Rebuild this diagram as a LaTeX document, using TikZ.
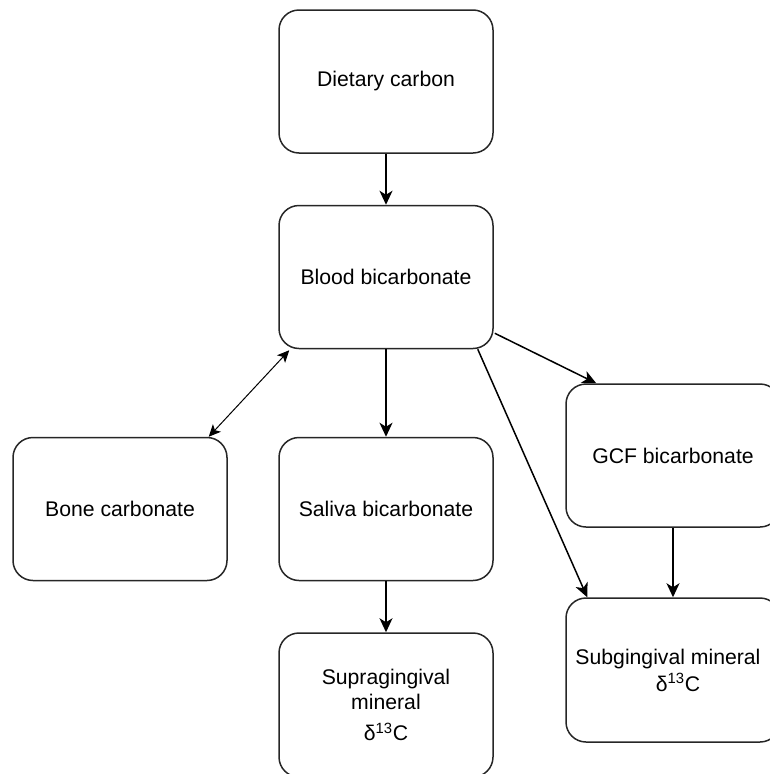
\documentclass[tikz,border=0pt]{standalone}
\usepackage{fontspec}
\setmainfont{Liberation Sans}
\usetikzlibrary{arrows.meta,calc}
\begin{document}
\begin{tikzpicture}[x=1pt,y=-1pt,
  box/.style={draw=black!85,line width=1.5pt,rounded corners=20pt,minimum width=214pt,minimum height=143pt,inner sep=0pt,align=center,font=\fontsize{21.2}{25}\selectfont},
  conn/.style={line width=1.5pt,-{Stealth[length=14pt,width=13pt,inset=4pt]}},
  thinconn/.style={line width=1pt,{Stealth[length=12pt,width=11pt,inset=3pt]}-{Stealth[length=12pt,width=11pt,inset=3pt]}}]
\useasboundingbox (0,0) rectangle (769,774);
\node[box] (diet) at (386,81.5) {Dietary carbon};
\node[box] (blood) at (386,277) {Blood bicarbonate};
\node[box] (bone) at (120,509) {Bone carbonate};
\node[box] (saliva) at (386,509) {Saliva bicarbonate};
\node[box] (gcf) at (673,455.5) {GCF bicarbonate};
\node[box,minimum height=144pt] (supra) at (386,705) {Supragingival\\mineral\\[6pt]δ\textsuperscript{13}C};
\node[box,minimum height=144pt] (subg) at (673,670) {\hspace*{-10pt}Subgingival mineral\\[2pt]δ\textsuperscript{13}C\hspace*{-10pt}};
\draw[conn] (diet.south) -- (blood.north);
\draw[conn] (blood.south) -- (saliva.north);
\draw[conn] (saliva.south) -- (supra.north);
\draw[conn] (gcf.south) -- (subg.north);
\draw[thinconn] ($(bone.north east)+(-19,0)$) -- ($(blood.south west)+(11,1)$);
\draw[conn] ($(blood.south east)+(1,-16)$) -- ($(gcf.north west)+(31,0)$);
\draw[conn] ($(blood.south east)+(-16,0)$) -- ($(subg.north west)+(22,0)$);
\end{tikzpicture}
\end{document}
